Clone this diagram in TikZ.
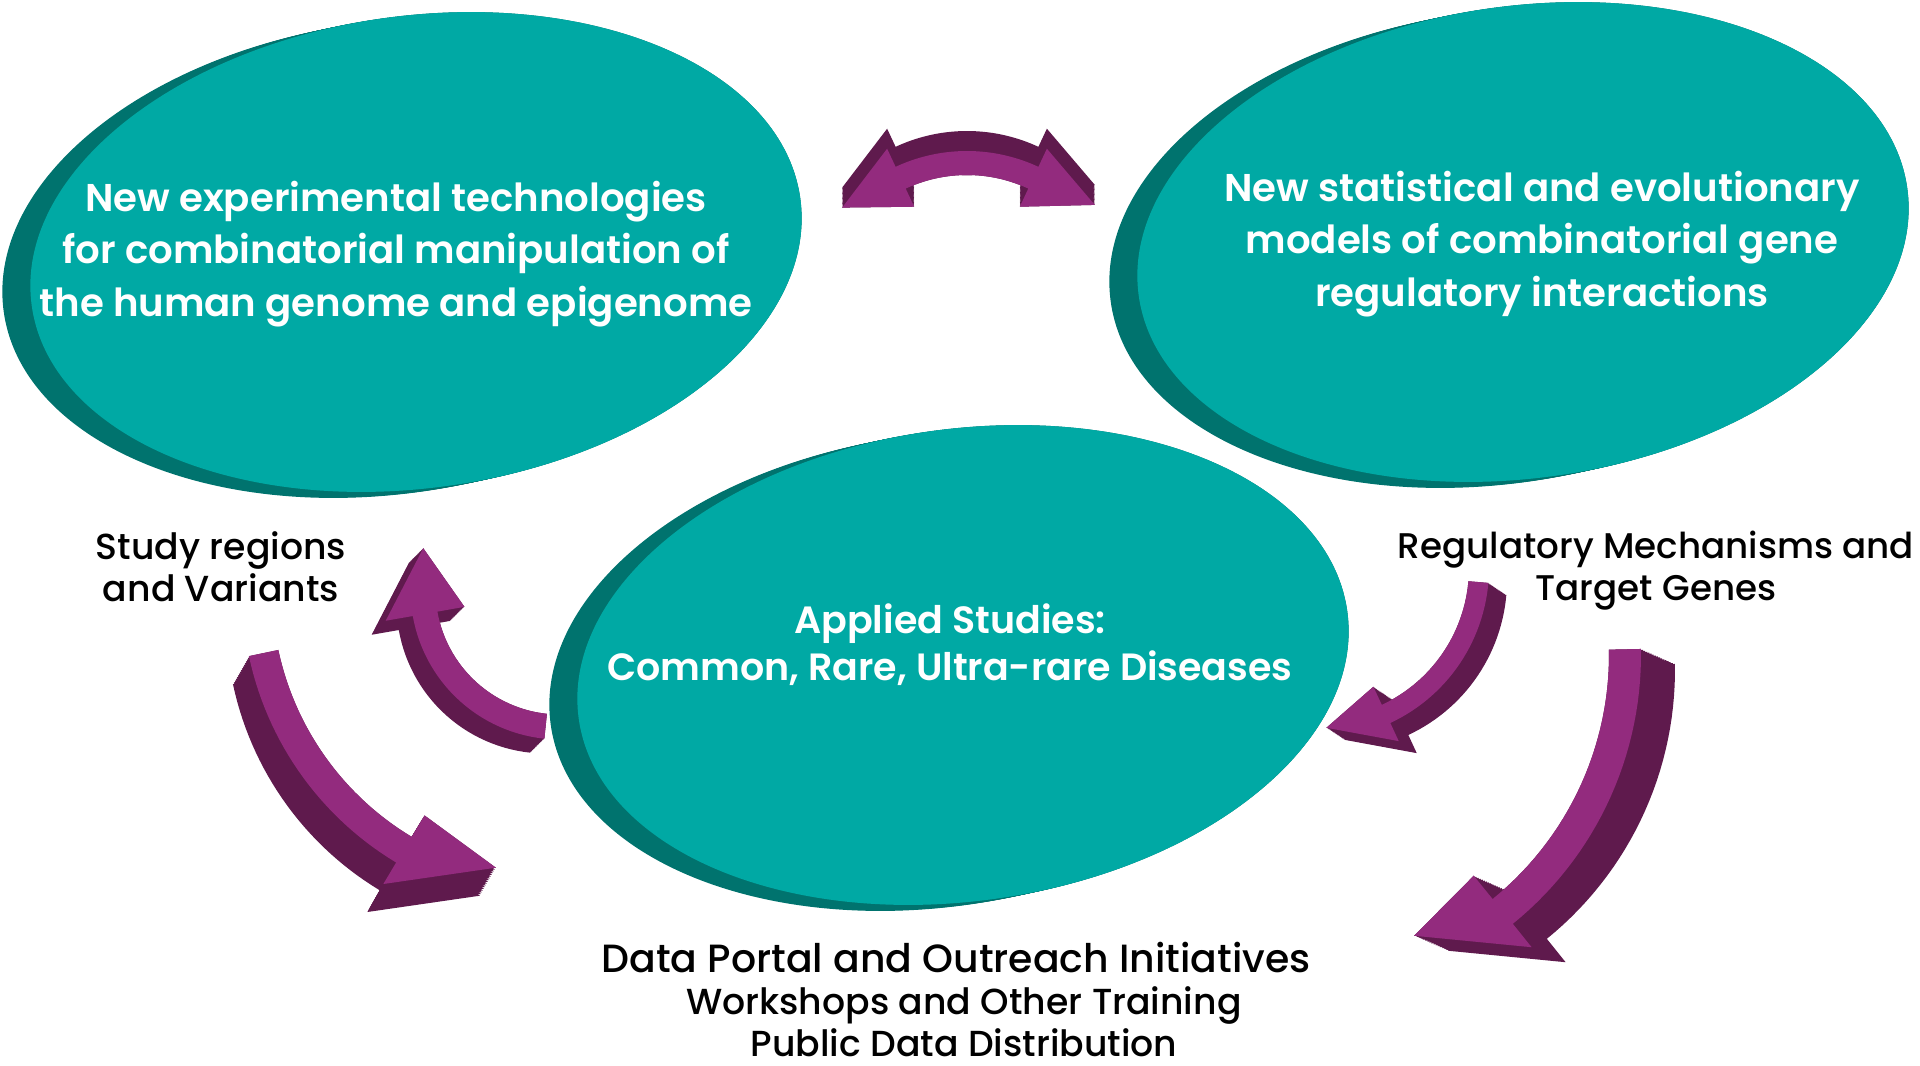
\documentclass[tikz,border=0pt]{standalone}
\usepackage{fontspec}
\usepackage{xcolor}
\usepackage{tikz}
\usetikzlibrary{calc}
\newfontfamily\discfont{Poppins SemiBold}
\newfontfamily\labelfont{Poppins Medium}
\definecolor{discfill}{RGB}{0,169,164}
\definecolor{discdark}{RGB}{0,115,110}
\definecolor{arrowfill}{RGB}{147,43,126}
\definecolor{arrowdark}{RGB}{95,26,77}
\tikzset{
  disc face/.style={fill=discfill},
  disc side/.style={fill=discdark},
  arrow face/.style={fill=arrowfill},
  arrow side/.style={fill=arrowdark},
  disc text/.style={
    text=white, align=center, inner sep=1pt,
    font=\discfont\fontsize{11}{15}\selectfont
  },
  side text/.style={
    text=black, align=center, inner sep=0pt,
    font=\labelfont\fontsize{10.3}{11.9}\selectfont
  }
}
\newcommand{\arrowpath}[7]{%
  plot[domain=0:1, samples=30] ({((#1)+(#2))*cos((#4)+((#5)-(#4))*\x)}, {((#1)+(#2))*sin((#4)+((#5)-(#4))*\x)})
  -- ({((#1)+(#3))*cos(#5)}, {((#1)+(#3))*sin(#5)})
  -- ({(#7)*cos(#6)}, {(#7)*sin(#6)})
  -- ({((#1)-(#3))*cos(#5)}, {((#1)-(#3))*sin(#5)})
  -- plot[domain=0:1, samples=30] ({((#1)-(#2))*cos((#5)+((#4)-(#5))*\x)}, {((#1)-(#2))*sin((#5)+((#4)-(#5))*\x)})
  -- cycle}
\newcommand{\arrowside}[9]{%
  \begin{scope}[shift={#1}]
    \foreach \k in {0,...,16}
      \fill[arrow side, shift={($\k/16*#9$)}] \arrowpath{#2}{#3}{#4}{#5}{#6}{#7}{#8};
  \end{scope}}
\newcommand{\arrowface}[8]{%
  \fill[arrow face, shift={#1}] \arrowpath{#2}{#3}{#4}{#5}{#6}{#7}{#8};}
\newcommand{\bentarrow}[9]{%
  \arrowside{#1}{#2}{#3}{#4}{#5}{#6}{#7}{#8}{#9}
  \arrowface{#1}{#2}{#3}{#4}{#5}{#6}{#7}{#8}}
\newcommand{\tealdisc}[1]{%
  \foreach \k in {0,...,10}
    \fill[disc side, shift={($\k/10*(-28,6)$)}, rotate around={8:#1}] #1 ellipse [x radius=388, y radius=236];
  \fill[disc face, rotate around={8:#1}] #1 ellipse [x radius=388, y radius=236];}

\begin{document}
\begin{tikzpicture}[x=0.01cm, y=-0.01cm]
    \useasboundingbox (0,0) rectangle (1920,1066);

    \tealdisc{(416,252)}
    \tealdisc{(1523,242)}
    \tealdisc{(963,665)}

    \arrowside{(967,320)}{157}{12}{32}{-88}{-115}{-138}{168}{(0,-20)}
    \arrowside{(967,320)}{157}{12}{32}{-92}{-65}{-42}{172}{(0,-20)}
    \arrowface{(967,320)}{157}{12}{32}{-88}{-115}{-138}{168}
    \arrowface{(967,320)}{157}{12}{32}{-92}{-65}{-42}{172}

    \bentarrow{(560,590)}{137}{12.5}{40}{96}{170}{197}{143}{(-14,14)}
    \bentarrow{(560,590)}{303}{15}{40}{168}{121}{103}{285}{(-16,28)}
    \bentarrow{(1318,568)}{161}{10}{30}{5}{65}{87}{160}{(18,12)}
    \bentarrow{(1295,655)}{330}{16}{46}{-1}{51}{67}{305}{(34,15)}

    \node[disc text] (exptech) at (396,254) {New experimental technologies\\for combinatorial manipulation of\\the human genome and epigenome};
    \node[disc text] (statmodels) at (1542,244) {New statistical and evolutionary\\models of combinatorial gene\\regulatory interactions};
    \node[disc text, font=\discfont\fontsize{10.8}{13.3}\selectfont] (applied) at (950,645) {Applied Studies:\\Common, Rare, Ultra-rare Diseases};

    \node[side text] (regions) at (221,567) {Study regions\\and Variants};
    \node[side text, font=\labelfont\fontsize{10.15}{11.9}\selectfont] (mechanisms) at (1656,571) {Regulatory Mechanisms and\\Target Genes};
    \node[side text, font=\labelfont\fontsize{11.2}{13}\selectfont] (portal) at (956,957) {Data Portal and Outreach Initiatives};
    \node[side text] (training) at (964,1022) {Workshops and Other Training\\Public Data Distribution};
\end{tikzpicture}
\end{document}
